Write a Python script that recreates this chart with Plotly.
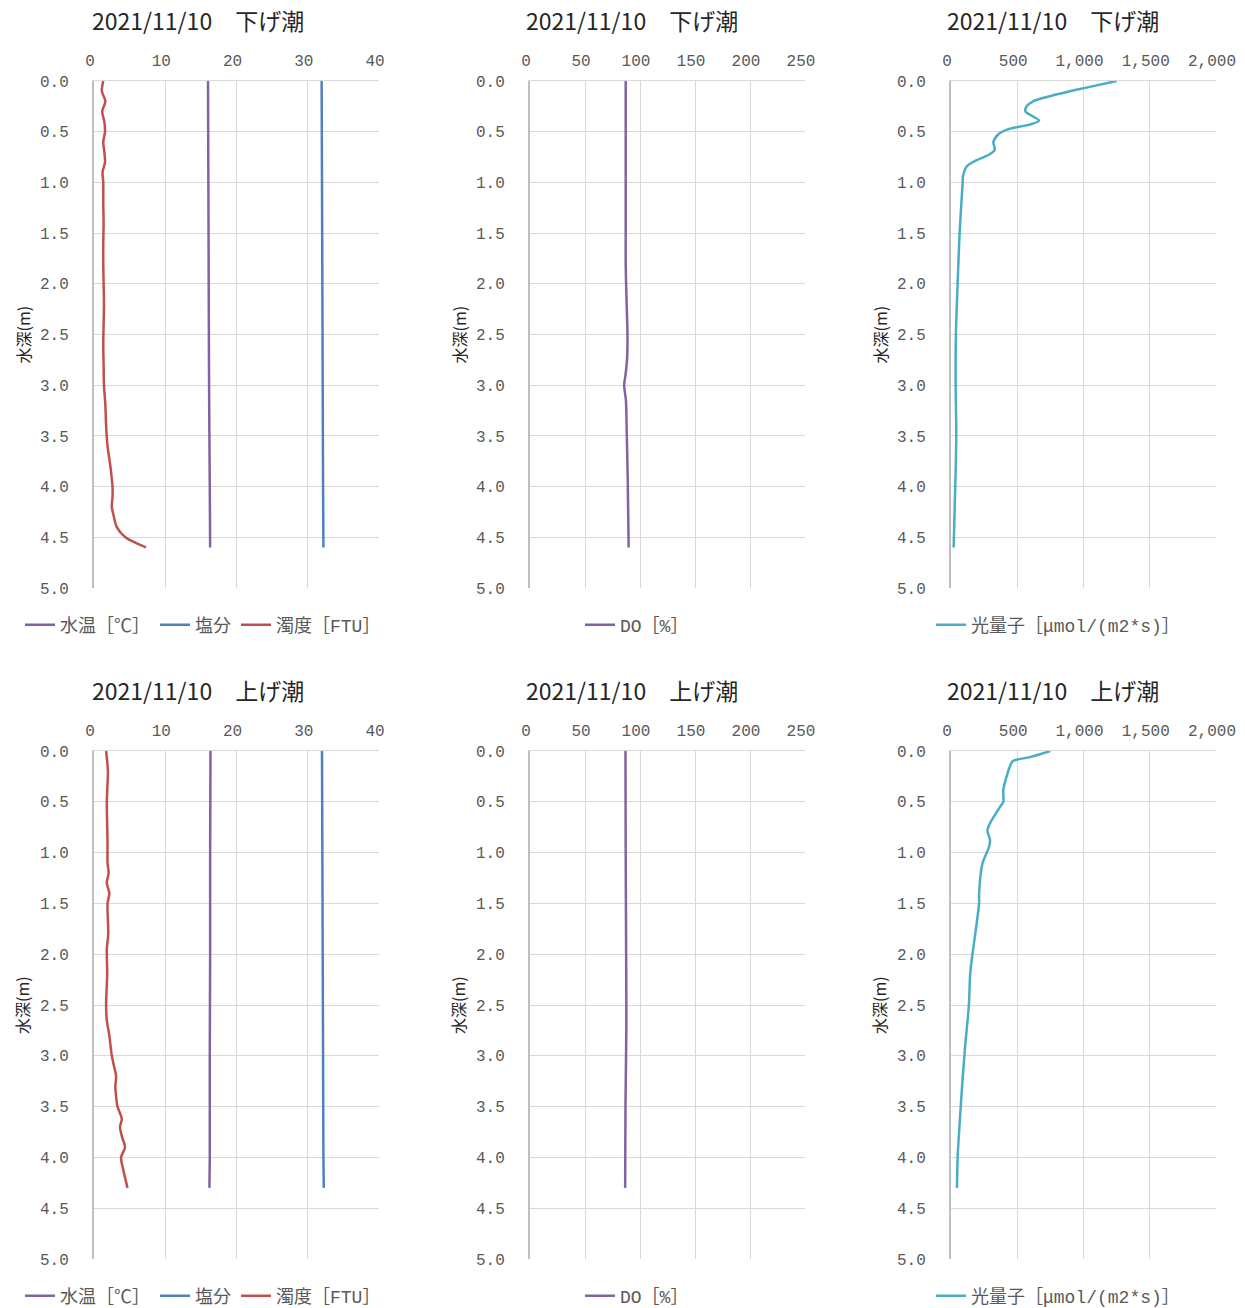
import plotly.graph_objects as go

# ---- 2021/11/10 下げ潮 (ebb tide) ----
down_temp_depth = [0.0, 1.0, 2.0, 3.0, 4.0, 4.6]
down_temp = [16.0, 16.05, 16.1, 16.15, 16.25, 16.3]
down_sal = [31.95, 32.0, 32.05, 32.1, 32.15, 32.2]

down_turb_depth = [0.0, 0.1, 0.2, 0.3, 0.4, 0.5, 0.6, 0.7, 0.8, 0.9, 1.0, 1.2, 1.4, 1.6,
                   1.8, 2.0, 2.2, 2.4, 2.6, 2.8, 3.0, 3.2, 3.4, 3.6, 3.8, 4.0, 4.1, 4.2,
                   4.3, 4.4, 4.5, 4.6]
down_turb = [1.3, 1.1, 1.6, 1.15, 1.45, 1.55, 1.3, 1.45, 1.55, 1.2, 1.3, 1.3, 1.35, 1.3,
             1.3, 1.35, 1.4, 1.35, 1.3, 1.35, 1.4, 1.6, 1.7, 1.9, 2.3, 2.6, 2.6, 2.5,
             2.8, 3.2, 4.4, 7.3]

down_do_depth = [0.0, 0.5, 1.0, 1.5, 1.8, 2.1, 2.5, 2.75, 2.9, 3.0, 3.15, 3.5, 3.9, 4.3, 4.6]
down_do = [87.0, 87.0, 87.0, 87.0, 87.0, 87.6, 88.6, 88.2, 86.8, 85.6, 87.2, 88.0, 88.8, 89.3, 89.7]

down_par_depth = [0.0, 0.07, 0.15, 0.2, 0.25, 0.3, 0.35, 0.39, 0.43, 0.47, 0.52, 0.6, 0.68,
                  0.73, 0.78, 0.84, 0.94, 1.0, 1.5, 2.0, 2.5, 3.0, 3.5, 4.0, 4.6]
down_par = [1250, 1005, 745, 620, 570, 562, 620, 665, 595, 445, 362, 320, 330,
            282, 195, 120, 90, 88, 65, 50, 37, 35, 40, 32, 20]

# ---- 2021/11/10 上げ潮 (flood tide) ----
up_temp_depth = [0.0, 1.0, 2.0, 3.0, 4.0, 4.3]
up_temp = [16.35, 16.3, 16.3, 16.25, 16.25, 16.2]
up_sal = [32.0, 32.05, 32.1, 32.15, 32.2, 32.25]

up_turb_depth = [0.0, 0.2, 0.5, 0.9, 1.1, 1.2, 1.3, 1.4, 1.5, 1.8, 1.95, 2.2, 2.5, 2.65,
                 2.8, 3.0, 3.1, 3.2, 3.3, 3.4, 3.5, 3.62, 3.7, 3.8, 3.9, 4.0, 4.12, 4.3]
up_turb = [1.7, 1.95, 1.8, 1.9, 1.9, 2.05, 1.8, 2.15, 1.9, 2.0, 1.8, 1.85, 1.7, 1.8,
           2.15, 2.5, 2.8, 3.1, 3.0, 3.1, 3.3, 3.9, 3.65, 3.95, 4.35, 3.8, 4.1, 4.7]

up_do_depth = [0.0, 1.0, 2.0, 2.7, 3.5, 4.3]
up_do = [86.8, 87.0, 87.4, 87.6, 86.8, 86.5]

up_par_depth = [0.0, 0.06, 0.1, 0.15, 0.38, 0.5, 0.55, 0.71, 0.78, 0.88, 0.94, 1.11, 1.4,
                1.5, 2.0, 2.19, 2.5, 2.9, 3.24, 3.73, 4.0, 4.3]
up_par = [750, 595, 465, 445, 395, 395, 370, 295, 275, 295, 288, 237, 212,
          212, 162, 145, 135, 107, 87, 62, 50, 45]

titles = ["2021/11/10\u3000下げ潮", "2021/11/10\u3000上げ潮"]
name_temp = "水温［℃］"
name_sal = "塩分"
name_turb = "濁度［FTU］"
name_do = "DO［%］"
name_par = "光量子［μmol/(m2*s)］"
depth_title = "水深(m)"

x_ranges = [(0, 40, 10), (0, 250, 50), (0, 2000, 500)]

# Excel-style palette
C_PURPLE = "#8064A2"
C_BLUE = "#4F81BD"
C_RED = "#C0504D"
C_CYAN = "#4BACC6"
GRID = "#D9D9D9"
AXIS = "#BFBFBF"
TICK = "#595959"

W, H = 1245, 1308
col_px = [(94, 379), (530, 805), (951, 1216)]
row_px = [(81, 588), (751, 1259)]
title_cx = [198, 632, 1053]
legend_cx = [203, 637, 1058]
title_y = [20, 690]
legend_y = [625, 1296]

MONO = "Liberation Mono, Noto Sans CJK JP, monospace"
CJK = "Noto Sans CJK JP, sans-serif"

fig = go.Figure()

panels = [
    # row 0
    [[(down_temp, down_temp_depth, name_temp, C_PURPLE),
      (down_sal, down_temp_depth, name_sal, C_BLUE),
      (down_turb, down_turb_depth, name_turb, C_RED)],
     [(down_do, down_do_depth, name_do, C_PURPLE)],
     [(down_par, down_par_depth, name_par, C_CYAN)]],
    # row 1
    [[(up_temp, up_temp_depth, name_temp, C_PURPLE),
      (up_sal, up_temp_depth, name_sal, C_BLUE),
      (up_turb, up_turb_depth, name_turb, C_RED)],
     [(up_do, up_do_depth, name_do, C_PURPLE)],
     [(up_par, up_par_depth, name_par, C_CYAN)]],
]

layout = dict(
    width=W, height=H,
    margin=dict(l=0, r=0, t=0, b=0, autoexpand=False),
    paper_bgcolor="white", plot_bgcolor="white",
    showlegend=True,
    annotations=[],
)

idx = 0
for r in range(2):
    for c in range(3):
        idx += 1
        sfx = "" if idx == 1 else str(idx)
        leg = "legend" if idx == 1 else f"legend{idx}"
        for xs, ys, name, color in panels[r][c]:
            fig.add_trace(go.Scatter(
                x=xs, y=ys, name=name, mode="lines",
                line=dict(color=color, width=2.5, shape="spline", smoothing=0.8),
                xaxis=f"x{sfx}", yaxis=f"y{sfx}", legend=leg,
                hoverinfo="skip",
            ))
        x0, x1 = col_px[c]
        y0, y1 = row_px[r]
        lo, hi, step = x_ranges[c]
        layout[f"xaxis{sfx}"] = dict(
            domain=[x0 / W, x1 / W], anchor=f"y{sfx}", side="top",
            range=[lo, hi], dtick=step, tick0=0,
            tickformat="," if c == 2 else "d",
            showgrid=True, gridcolor=GRID, gridwidth=1.3,
            showline=True, linecolor=GRID, linewidth=1.3,
            zeroline=False, ticks="", ticklabelstandoff=7, ticklabelshift=-4,
            tickfont=dict(family=MONO, size=16, color=TICK),
            automargin=False, fixedrange=True,
        )
        layout[f"yaxis{sfx}"] = dict(
            domain=[1 - y1 / H, 1 - y0 / H], anchor=f"x{sfx}",
            range=[5, 0], dtick=0.5, tick0=0, tickformat=".1f",
            showgrid=True, gridcolor=GRID, gridwidth=1.3,
            showline=True, linecolor=AXIS, linewidth=2,
            zeroline=False, ticks="", ticklabelstandoff=20,
            tickfont=dict(family=MONO, size=16, color=TICK),
            automargin=False, fixedrange=True,
        )
        layout[leg] = dict(
            orientation="h", x=legend_cx[c] / W, y=1 - legend_y[r] / H,
            xanchor="center", yanchor="middle",
            font=dict(family=MONO, size=18, color=TICK),
            bgcolor="rgba(0,0,0,0)", itemwidth=30, tracegroupgap=0,
        )
        layout["annotations"].append(dict(
            text=titles[r], x=title_cx[c] / W, y=1 - title_y[r] / H,
            xref="paper", yref="paper", xanchor="center", yanchor="middle",
            showarrow=False, font=dict(family=CJK, size=23, color="#262626"),
        ))
        layout["annotations"].append(dict(
            text=depth_title, x=(x0 - 72) / W, y=1 - (y0 + y1) / 2 / H,
            xref="paper", yref="paper", xanchor="center", yanchor="middle",
            textangle=-90, showarrow=False,
            font=dict(family=CJK, size=16, color="#262626"),
        ))

fig.update_layout(**layout)
fig.write_html("out.html")
